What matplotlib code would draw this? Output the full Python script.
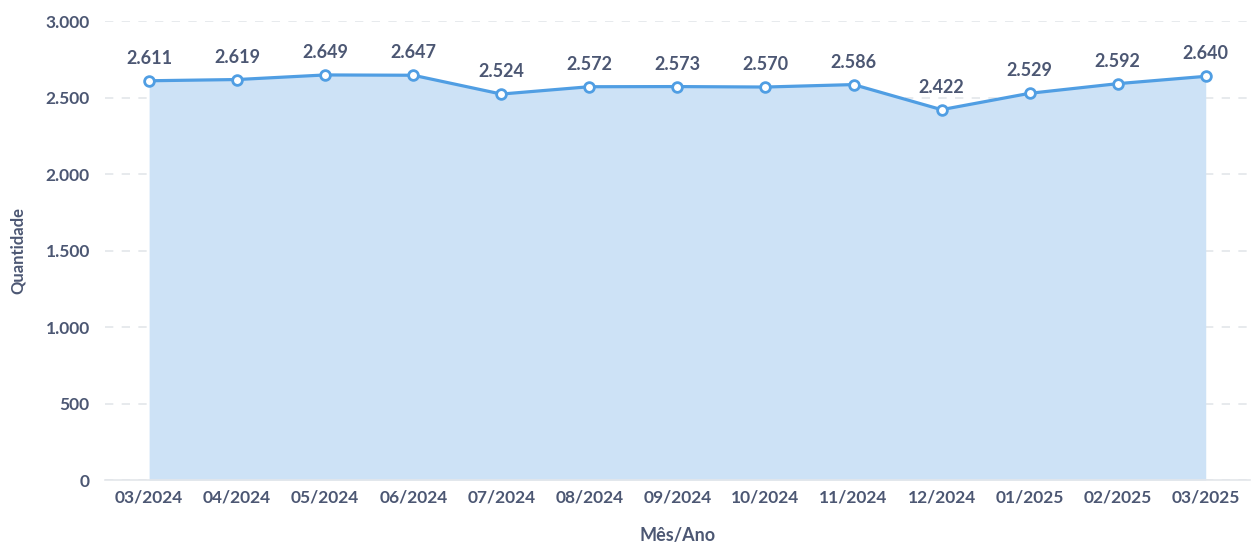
import matplotlib
matplotlib.use("Agg")
import matplotlib.pyplot as plt
import matplotlib.ticker as ticker
import numpy as np

# ── Colors ──────────────────────────────────────────────────────────────────
LINE = "#509EE3"
FILL = "#CDE2F6"
TEXT = "#4C5773"
GRID = "#E3E6EA"

# ── Data ────────────────────────────────────────────────────────────────────
months = ["03/2024", "04/2024", "05/2024", "06/2024", "07/2024", "08/2024",
          "09/2024", "10/2024", "11/2024", "12/2024", "01/2025", "02/2025",
          "03/2025"]
quantities = [2611, 2619, 2649, 2647, 2524, 2572, 2573, 2570, 2586, 2422,
              2529, 2592, 2640]
y_ticks = [0, 500, 1000, 1500, 2000, 2500, 3000]


def _fmt_br(val, _=None):
    """Thousands separator with dot (pt-BR)."""
    return f"{int(round(val)):,}".replace(",", ".")


plt.rcParams.update({
    "font.family": ["Lato", "DejaVu Sans"],
    "font.size": 12.5,
})

fig = plt.figure(figsize=(12.51, 5.45), dpi=100)
ax = fig.add_axes([0.084, 0.119, 0.915, 0.842])

x = np.arange(len(months))
ax.fill_between(x, quantities, 0, color=FILL, linewidth=0, zorder=1)
ax.plot(x, quantities, color=LINE, linewidth=2.3, zorder=3,
        marker="o", markersize=7, markerfacecolor="white",
        markeredgecolor=LINE, markeredgewidth=2)

for xi, v in zip(x, quantities):
    ax.annotate(_fmt_br(v), (xi, v), xytext=(0, 10), textcoords="offset points",
                ha="center", va="bottom", fontsize=13, fontweight="bold",
                color=TEXT, zorder=4)

ax.set_xlim(-0.5, len(months) - 0.5)
ax.set_ylim(0, 3000)
ax.set_yticks(y_ticks)
ax.yaxis.set_major_formatter(ticker.FuncFormatter(_fmt_br))
ax.set_xticks(x)
ax.set_xticklabels(months)

for lbl in ax.get_xticklabels() + ax.get_yticklabels():
    lbl.set_fontweight("bold")
    lbl.set_color(TEXT)
    lbl.set_fontsize(12.5)

ax.tick_params(axis="both", length=0)
ax.tick_params(axis="y", pad=11)
ax.tick_params(axis="x", pad=7)

ax.grid(axis="y", color=GRID, linestyle=(0, (5, 5)), linewidth=1.2, zorder=0)
ax.set_axisbelow(True)
for side in ["top", "right", "left"]:
    ax.spines[side].set_visible(False)
ax.spines["bottom"].set_color(GRID)
ax.spines["bottom"].set_linewidth(1.2)

ax.set_xlabel("Mês/Ano", fontsize=13, fontweight="bold", color=TEXT, labelpad=15)
ax.set_ylabel("Quantidade", fontsize=12, fontweight="bold", color=TEXT, labelpad=14)

fig.savefig("out.png", dpi=100, facecolor="white")
